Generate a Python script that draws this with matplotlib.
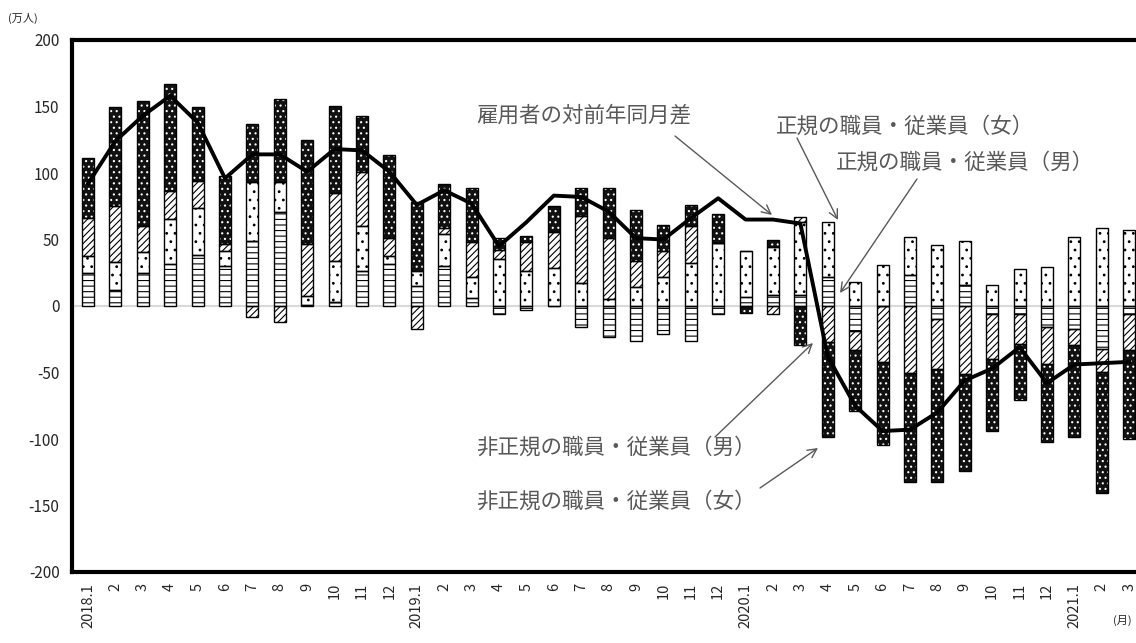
import numpy as np
import matplotlib

matplotlib.use("Agg")
import matplotlib.pyplot as plt  # noqa: E402

plt.rcParams["font.family"] = ["Noto Sans CJK JP", "DejaVu Sans"]
plt.rcParams["hatch.linewidth"] = 0.8
plt.rcParams["axes.unicode_minus"] = False

months = [
    "2018.1", "2", "3", "4", "5", "6", "7", "8", "9", "10", "11", "12",
    "2019.1", "2", "3", "4", "5", "6", "7", "8", "9", "10", "11", "12",
    "2020.1", "2", "3", "4", "5", "6", "7", "8", "9", "10", "11", "12",
    "2021.1", "2", "3",
]

# 万人, year-on-year difference
seiki_m = [24.5, 12, 24.5, 31.5, 38.5, 30, 48.5, 71, 1, 3, 26.5, 31.5,
           15, 30, 6, -6, -3, 0, -16, -23, -26, -21, -26, -6,
           7, 8, 8, 22, -19, 0, 23, -9.5, 15.5, -6, -6, -16,
           -17, -32, -6]
seiki_f = [13, 21, 16, 34, 35, 11, 45, 22, 6.5, 31, 34, 6,
           11, 24, 16, 35, 26, 28.5, 17, 5.5, 14, 22, 32, 47,
           34, 36, 55, 41, 18, 30.5, 29, 45.5, 33, 15.5, 28, 29,
           52, 59, 57.5]
hiseiki_m = [29, 42, 20, 21, 20.5, 5.5, -8.5, -12, 39, 51, 40, 14,
             -17, 4.5, 26, 7, 22, 27, 51, 46, 20, 19.5, 28, 0,
             0, -6, 4, -27, -14, -42, -50, -37.5, -51, -34, -22.5, -27.5,
             -12.5, -17.5, -27]
hiseiki_f = [44.5, 74.5, 94, 80.5, 56, 51.5, 43, 63, 78, 65, 42.5, 62,
             52, 33, 40.5, 9, 5, 20, 20.5, 37, 38, 19.5, 16, 22,
             -5, 5.5, -29.5, -71.5, -46, -62.5, -82, -85, -73, -54, -42, -59,
             -69, -91, -67]
employees = [92, 124, 143, 158, 138, 96, 114, 114, 101, 118, 117, 101,
             76, 87, 77, 45, 63, 83, 82, 71, 51, 50, 66, 81,
             65, 65, 62, -38, -75, -94, -93, -80, -56, -47, -31, -58,
             -44, -43, -42]

fig = plt.figure(figsize=(11.36, 6.43), dpi=100)
ax = fig.add_axes([72 / 1136, 71 / 643, 1078 / 1136, 532 / 643])

x = np.arange(len(months))
width = 0.44
pos_base = np.zeros(len(x))
neg_base = np.zeros(len(x))

styles = [
    (seiki_m, dict(facecolor="white", edgecolor="black", hatch="---")),
    (seiki_f, dict(facecolor="white", edgecolor="black", hatch="..")),
    (hiseiki_m, dict(facecolor="white", edgecolor="black", hatch="/////")),
    (hiseiki_f, dict(facecolor="#111111", edgecolor="white", hatch="...")),
]

for values, st in styles:
    v = np.array(values, dtype=float)
    bottom = np.where(v >= 0, pos_base, neg_base)
    ax.bar(x, v, width, bottom=bottom, linewidth=0, zorder=2, **st)
    ax.bar(x, v, width, bottom=bottom, fill=False, edgecolor="black",
           linewidth=1.0, zorder=3)
    pos_base += np.where(v > 0, v, 0)
    neg_base += np.where(v < 0, v, 0)

ax.plot(x, employees, color="black", linewidth=2.8, zorder=4,
        solid_joinstyle="round")

ax.axhline(0, color="#d9d9d9", linewidth=1.5, zorder=1)

ax.set_xlim(-0.584, 38.76)
ax.set_ylim(-200, 200)
ax.set_yticks(range(-200, 201, 50))
ax.tick_params(axis="y", length=0, pad=9, labelsize=11, labelcolor="#262626")
ax.set_xticks(x)
ax.set_xticklabels(months, rotation=90)
ax.tick_params(axis="x", length=0, pad=8, labelsize=10.5, labelcolor="#262626")

for side in ("left", "top", "bottom"):
    ax.spines[side].set_linewidth(3)
    ax.spines[side].set_color("black")
ax.spines["right"].set_visible(False)

fig.text(8 / 1136, 1 - 18 / 643, "(万人)", fontsize=8, color="#262626",
         va="center", ha="left")
fig.text(1132 / 1136, 1 - 620 / 643, "(月)", fontsize=8, color="#262626",
         va="center", ha="right")

H = 643
gray = "#595959"
labels = [
    ("雇用者の対前年同月差", (476, 115), (675, 136), (772, 215)),
    ("正規の職員・従業員（女）", (776, 127), (797, 138), (838, 220)),
    ("正規の職員・従業員（男）", (836, 163), (917, 179), (840, 293)),
    ("非正規の職員・従業員（男）", (476, 448), (715, 437), (813, 343)),
    ("非正規の職員・従業員（女）", (476, 502), (760, 488), (818, 448)),
]
for text, (tx, ty), (sx, sy), (ex, ey) in labels:
    fig.text(tx / 1136, 1 - ty / H, text, fontsize=15.5, color=gray,
             ha="left", va="center")
    ax.annotate("", xy=(ex, H - ey), xycoords="figure pixels",
                xytext=(sx, H - sy), textcoords="figure pixels",
                arrowprops=dict(arrowstyle="->", color=gray, lw=1.0,
                                mutation_scale=16, shrinkA=0, shrinkB=0))

fig.savefig("out.png", dpi=100)
